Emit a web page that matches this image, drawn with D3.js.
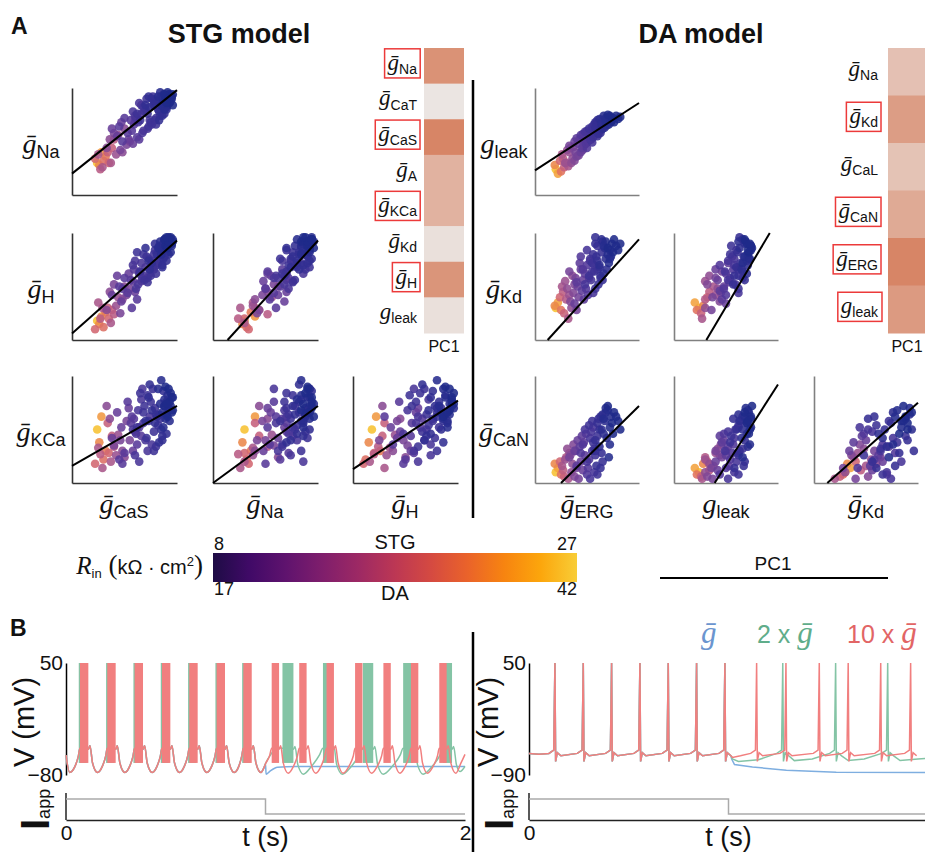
<!DOCTYPE html>
<html>
<head>
<meta charset="utf-8">
<script src="https://cdn.jsdelivr.net/npm/d3@7"></script>
<style>
  body { margin: 0; background: #fff; }
  svg { display: block; }
  text { font-family: "Liberation Sans", Arial, sans-serif; fill: #111; }
</style>
</head>
<body>
<script>
let width = 925;
let height = 852;

// ---- STG model neurons: [gCaS, gNa, gH, gKCa, Rin]  (conductances in % of axis range)
let stgVars = ["CaS", "Na", "H", "KCa"];
let stgCells = [
  [24,30,18,50,27],[28,40,22,62,25],[26,28,15,38,24],[32,36,26,30,23],[30,32,12,22,22],
  [35,30,20,28,21],[22,34,10,18,21],[38,44,28,44,20],[34,40,30,56,20],[27,24,20,27,19],
  [40,52,24,34,19],[29,26,30,14,18],[37,30,16,20,18],[25,38,35,33,18],[42,38,32,26,17],
  [44,56,40,45,17],[36,52,45,60,16],[48,40,38,30,16],[33,44,28,72,16],[50,62,50,24,16],
  [46,42,25,40,15],[52,47,42,58,15],[40,58,52,35,15],[55,50,48,40,15],[47,68,36,52,14],
  [58,48,55,30,14],[43,55,60,66,14],[60,70,45,48,14],[38,62,42,42,14],[54,52,62,70,14],
  [62,54,38,36,13],[50,72,58,28,13],[57,60,30,62,13],[64,52,64,52,13],[45,64,50,22,13],
  [66,76,55,44,13],[53,58,44,76,13],[59,66,66,60,13],[48,50,48,18,13],[56,70,56,56,13],
  [68,60,60,56,12],[70,80,68,40,12],[63,68,52,68,12],[72,62,58,30,12],[58,78,70,50,12],
  [74,70,62,62,12],[66,84,72,78,12],[61,72,48,46,12],[76,66,74,36,12],[67,58,58,88,12],
  [60,74,74,26,12],[64,86,62,20,12],[69,78,56,72,11],[73,64,76,58,11],[78,88,66,48,11],
  [65,70,64,84,11],[80,72,70,64,11],[71,90,78,42,11],[75,68,60,76,11],[82,80,72,54,11],
  [68,82,80,66,11],[77,92,68,88,11],[84,74,76,60,11],[62,76,82,52,11],[79,70,84,70,11],
  [80,66,62,34,11],[78,84,80,30,11],[72,76,54,82,11],[86,86,70,44,10],[73,92,74,80,10],
  [81,88,80,62,10],[88,76,78,72,10],[70,84,86,58,10],[85,92,84,50,10],[76,90,72,68,10],
  [90,82,82,76,10],[83,78,88,64,10],[87,94,76,86,10],[79,86,90,56,10],[92,88,80,70,10],
  [74,82,66,92,10],[86,74,68,40,10],[90,80,74,46,10],[83,70,86,38,10],[89,92,86,60,9],
  [84,96,92,74,9],[91,84,88,82,9],[86,90,84,66,9],[93,86,90,58,9],[88,80,94,78,9],
  [82,92,86,88,9],[94,92,82,72,9],[90,88,92,64,9],[85,84,80,96,9],[92,94,96,70,9],
  [95,90,88,80,9],[87,86,90,52,9],[93,94,94,76,8],[89,90,88,90,8],[96,84,92,68,8],
  [91,96,86,62,8],[94,88,96,84,8],[88,94,94,72,8],[95,92,90,66,8],[92,90,92,88,8],
  [90,86,96,74,8],[96,94,94,80,8]
];

// ---- DA model neurons: [gERG, gleak, gKd, gCaN, Rin]
let daVars = ["ERG", "leak", "Kd", "CaN"];
let daCells = [
  [20,24,30,10,42],[22,20,35,14,40],[19,28,32,18,38],[25,22,28,8,36],[24,32,40,20,34],
  [28,26,25,6,33],[27,34,45,12,32],[30,30,38,24,31],[26,38,50,16,30],[32,27,20,4,30],
  [33,40,42,28,29],[29,30,55,22,29],[35,30,30,10,28],[31,42,48,32,28],[36,34,60,18,28],
  [34,44,36,26,27],[38,32,52,6,27],[37,45,44,36,27],[40,36,28,14,26],[33,46,64,24,26],
  [39,40,58,30,26],[42,37,40,4,26],[41,48,50,40,25],[44,40,66,20,25],[38,50,34,30,25],
  [46,42,56,12,25],[43,52,72,34,24],[45,44,46,44,24],[48,50,62,26,24],[40,53,54,16,24],
  [47,46,38,38,24],[50,44,70,8,23],[44,56,78,28,23],[49,48,48,46,23],[52,54,58,22,23],
  [46,57,66,36,23],[51,50,42,14,23],[53,58,76,42,22],[48,59,52,50,22],[55,49,64,30,22],
  [50,60,84,20,22],[54,52,56,48,22],[57,58,70,10,22],[56,62,44,52,22],[53,52,74,4,22],
  [52,62,60,54,21],[56,54,80,38,21],[58,62,48,26,21],[55,64,72,58,21],[60,55,88,44,21],
  [57,66,64,32,21],[60,62,66,8,21],[61,57,52,60,20],[59,67,78,16,20],[62,60,68,50,20],
  [58,68,90,40,20],[63,66,58,62,20],[64,61,82,28,20],[60,70,74,56,20],[65,68,56,20,20],
  [63,58,60,14,20],[58,63,96,30,20],[66,70,62,46,19],[65,62,92,64,19],[62,71,70,34,19],
  [67,63,86,58,19],[68,72,76,66,19],[64,66,94,50,19],[69,65,66,42,19],[70,71,80,68,18],
  [66,74,88,60,18],[71,66,72,24,18],[72,74,84,52,18],[68,69,92,70,18],[73,68,78,62,18],
  [72,73,76,36,18],[74,70,90,56,17],[70,75,86,72,17],[75,72,82,46,17],[76,68,94,66,17],
  [78,74,88,62,17],[80,71,84,58,17],[82,73,90,50,17]
];

// panels: [x variable, y variable, row, column, fit intercept, fit slope]
let stgPanels = [
  ["CaS","Na",0,0,20,0.78],
  ["CaS","H",1,0,6,0.87],
  ["Na","H",1,1,-15,1.08],
  ["CaS","KCa",2,0,16,0.56],
  ["Na","KCa",2,1,0,0.72],
  ["H","KCa",2,2,13,0.64]
];
let daPanels = [
  ["ERG","leak",0,0,23,0.63],
  ["ERG","Kd",1,0,-13,1.07],
  ["leak","Kd",1,1,-51,1.64],
  ["ERG","CaN",2,0,-24,0.96],
  ["leak","CaN",2,1,-59,1.51],
  ["Kd","CaN",2,2,-11,0.86]
];
let stgRowNames = ["Na","H","KCa"], stgColNames = ["CaS","Na","H"];
let daRowNames = ["leak","Kd","CaN"], daColNames = ["ERG","leak","Kd"];

// PC1 loadings (colour intensity) and significant conductances
let stgGenes = ["Na","CaT","CaS","A","KCa","Kd","H","leak"];
let stgPC1 = [0.83,0.03,0.95,0.52,0.52,0.08,0.80,0.08];
let stgSig = ["Na","CaS","KCa","H"];
let daGenes = ["Na","Kd","CaL","CaN","ERG","leak"];
let daPC1 = [0.38,0.72,0.36,0.60,0.95,0.75];
let daSig = ["Kd","CaN","ERG","leak"];

// input resistance ranges on the colour bar
let stgRin = [8, 27];
let daRin = [17, 42];

// ---- panel B: STG bursting traces [t (s), V (mV)]
let stgPre = [[0,-57],[0.018,-77],[0.045,-70],[0.062,-58],[0.07,-49],[0.112,-50],[0.12,-46],[0.133,-66],
  [0.158,-77],[0.182,-70],[0.199,-58],[0.207,-49],[0.249,-50],[0.257,-46],[0.27,-66],[0.295,-77],
  [0.319,-70],[0.336,-58],[0.344,-49],[0.386,-50],[0.394,-46],[0.407,-66],[0.432,-77],[0.456,-70],
  [0.473,-58],[0.481,-49],[0.523,-50],[0.531,-46],[0.544,-66],[0.569,-77],[0.593,-70],[0.61,-58],
  [0.618,-49],[0.66,-50],[0.668,-46],[0.681,-66],[0.706,-77],[0.73,-70],[0.747,-58],[0.755,-49],
  [0.797,-50],[0.805,-46],[0.818,-66],[0.843,-77],[0.866,-70],[0.881,-58],[0.889,-49],[0.931,-50],
  [0.939,-46],[0.952,-66],[0.977,-77],[0.995,-70],[1.0,-67]];
let stgRedPost = [[1.02,-58],[1.031,-49],[1.068,-50],[1.076,-46],[1.089,-66],[1.114,-78],[1.14,-70],
  [1.16,-58],[1.169,-49],[1.206,-50],[1.214,-46],[1.227,-66],[1.252,-78],[1.278,-70],[1.297,-58],
  [1.306,-49],[1.343,-50],[1.351,-46],[1.364,-66],[1.389,-78],[1.418,-70],[1.44,-58],[1.449,-49],
  [1.486,-50],[1.494,-46],[1.507,-66],[1.532,-78],[1.56,-70],[1.582,-58],[1.591,-49],[1.628,-50],
  [1.636,-46],[1.649,-66],[1.674,-78],[1.7,-70],[1.72,-58],[1.729,-49],[1.766,-50],[1.774,-46],
  [1.787,-66],[1.812,-78],[1.84,-70],[1.862,-58],[1.871,-49],[1.908,-50],[1.916,-46],[1.929,-66],
  [1.954,-78],[1.98,-66],[2.0,-56]];
let stgGreenPost = [[1.03,-55],[1.06,-48],[1.085,-49],[1.14,-50],[1.148,-47],[1.162,-68],[1.19,-79],
  [1.23,-70],[1.27,-57],[1.288,-49],[1.335,-50],[1.343,-47],[1.357,-68],[1.385,-79],[1.43,-70],
  [1.47,-57],[1.488,-49],[1.54,-50],[1.548,-47],[1.562,-68],[1.59,-79],[1.635,-70],[1.675,-57],
  [1.69,-49],[1.74,-50],[1.748,-47],[1.762,-68],[1.79,-79],[1.835,-70],[1.875,-57],[1.89,-49],
  [1.935,-50],[1.943,-47],[1.957,-68],[1.975,-76],[2.0,-70]];
let stgBluePost = [[1.003,-79],[1.02,-76],[1.06,-71],[1.15,-70],[2.0,-70]];
let stgRedBursts = [[0.070,0.112],[0.207,0.249],[0.344,0.386],[0.481,0.523],[0.618,0.660],[0.755,0.797],
  [0.889,0.931],[1.031,1.068],[1.169,1.206],[1.306,1.343],[1.449,1.486],[1.591,1.628],[1.729,1.766],[1.871,1.908]];
let stgGreenBursts = [[0.064,0.104],[0.201,0.241],[0.338,0.378],[0.475,0.515],[0.612,0.652],[0.749,0.789],
  [0.883,0.923],[1.085,1.14],[1.288,1.335],[1.488,1.54],[1.69,1.74],[1.89,1.935]];

// ---- panel B: DA tonic spiking, spike times (s) and subthreshold points [t, V]
let daPreSpikes = [0.130,0.272,0.414,0.556,0.698,0.840,0.982];
let daRedPostSpikes = [1.141,1.288,1.455,1.600,1.763,1.913];
let daGreenPostSpikes = [1.272,1.537,1.798];
let daRedBase = [[0,-63],[0.05,-64],[1.02,-68],[1.06,-66]];
let daGreenBase = [[0,-63],[0.05,-64],[1.02,-70],[1.05,-73],[1.15,-71],[1.33,-72],[1.42,-70],
  [1.6,-72],[1.68,-70],[1.86,-72],[1.95,-70],[2.0,-69]];
let daBlueBase = [[0,-63],[0.05,-64],[1.016,-70],[1.03,-77],[1.12,-80],[1.29,-84],[1.54,-86.5],[2.0,-87]];

// applied current: [t, level]
let iappSteps = [[0,1],[1,1],[1,0],[2,0]];

let red = "#f17f7f", green = "#84c4a5", blue = "#7eaee0";

// ---------------------------------------------------------------
let svg = d3.select("body").append("svg")
  .attr("width", width)
  .attr("height", height);

let serif = '"Liberation Serif", "DejaVu Serif", serif';

// g-bar label with a sans subscript
function gLabel(parent, x, y, sub, gSize, subSize, anchor) {
  let t = parent.append("text")
    .attr("x", x).attr("y", y)
    .attr("text-anchor", anchor || "middle");
  t.append("tspan")
    .text(sub == "leak" ? "g" : "\u1E21")
    .style("font-family", serif)
    .style("font-style", "italic")
    .style("font-size", gSize + "px");
  t.append("tspan")
    .text(sub)
    .attr("dy", gSize * 0.18)
    .style("font-size", subSize + "px");
  return t;
}

// panel letters and titles
svg.append("text").attr("x", 11).attr("y", 34).text("A")
  .style("font-size", "23px").style("font-weight", "bold");
svg.append("text").attr("x", 10).attr("y", 636).text("B")
  .style("font-size", "23px").style("font-weight", "bold");
svg.append("text").attr("x", 239).attr("y", 43).attr("text-anchor", "middle").text("STG model")
  .style("font-size", "27px").style("font-weight", "bold");
svg.append("text").attr("x", 701).attr("y", 43).attr("text-anchor", "middle").text("DA model")
  .style("font-size", "27px").style("font-weight", "bold");

// separators
svg.append("line").attr("x1", 473).attr("x2", 473).attr("y1", 80).attr("y2", 518)
  .attr("stroke", "#000").attr("stroke-width", 2.5);
svg.append("line").attr("x1", 473).attr("x2", 473).attr("y1", 632).attr("y2", 852)
  .attr("stroke", "#000").attr("stroke-width", 2.5);

// scatter grids
let rowsY = [88, 233, 376];
let panelH = 107;
let dotColours = ["#1f2a8a", "#3c3197", "#6a3f9a", "#a3548e", "#d0627a", "#ee7e48", "#f7c232"];

function drawModel(cells, vars, panels, cols, panelW, rinDom, spine) {
  let colour = d3.scaleSequential(d3.interpolateRgbBasis(dotColours)).domain(rinDom);
  let sorted = cells.slice().sort((a, b) => b[4] - a[4]);
  panels.forEach(function(p) {
    let xi = vars.indexOf(p[0]);
    let yi = vars.indexOf(p[1]);
    let x0 = cols[p[3]];
    let y0 = rowsY[p[2]];
    let x = d3.scaleLinear().domain([0, 100]).range([x0, x0 + panelW]);
    let y = d3.scaleLinear().domain([0, 100]).range([y0 + panelH, y0]);
    let g = svg.append("g");
    g.append("g").attr("transform", "translate(0," + (y0 + panelH) + ")")
      .call(d3.axisBottom(x).tickValues([]).tickSizeOuter(0));
    g.append("g").attr("transform", "translate(" + x0 + ",0)")
      .call(d3.axisLeft(y).tickValues([]).tickSizeOuter(0));
    g.selectAll(".domain").attr("stroke", spine).attr("stroke-width", 1.6);
    g.append("g").selectAll("circle")
      .data(sorted)
      .enter()
      .append("circle")
      .attr("cx", d => x(d[xi]))
      .attr("cy", d => y(d[yi]))
      .attr("r", 4.3)
      .attr("fill", d => colour(d[4]))
      .attr("fill-opacity", 0.88);
    let a = p[4], b = p[5];
    let xs = Math.max(0, -a / b), xe = Math.min(100, (100 - a) / b);
    g.append("line")
      .attr("x1", x(xs)).attr("y1", y(a + b * xs))
      .attr("x2", x(xe)).attr("y2", y(a + b * xe))
      .attr("stroke", "#000").attr("stroke-width", 2);
  });
}

let stgCols = [72, 213, 353];
let daCols = [535, 674, 814];
drawModel(stgCells, stgVars, stgPanels, stgCols, 105, stgRin, "#333");
drawModel(daCells, daVars, daPanels, daCols, 104, daRin, "#808080");

stgRowNames.forEach((n, i) => gLabel(svg, 41, rowsY[i] + 65, n, 28, 18));
daRowNames.forEach((n, i) => gLabel(svg, 504, rowsY[i] + 65, n, 28, 18));
stgColNames.forEach((n, i) => gLabel(svg, stgCols[i] + 52, 513, n, 28, 18));
daColNames.forEach((n, i) => gLabel(svg, daCols[i] + 52, 513, n, 28, 18));

// PC1 heat columns
let heat = d3.scaleLinear().domain([0, 1]).range(["#ece8e6", "#d6805f"]);

function drawHeat(genes, vals, sig, x0, w, labelX) {
  let y = d3.scaleBand().domain(genes).range([48, 333]);
  svg.append("g").selectAll("rect")
    .data(genes)
    .enter()
    .append("rect")
    .attr("x", x0)
    .attr("y", d => y(d))
    .attr("width", w)
    .attr("height", y.bandwidth() + 0.5)
    .attr("fill", (d, i) => heat(vals[i]));
  genes.forEach(function(gname) {
    let t = gLabel(svg, labelX, y(gname) + y.bandwidth() / 2 + 4, gname, 23, 14, "end");
    if (sig.indexOf(gname) >= 0) {
      let bb = t.node().getBBox();
      svg.append("rect")
        .attr("x", bb.x - 3).attr("y", bb.y - 1)
        .attr("width", bb.width + 6).attr("height", bb.height + 2)
        .attr("fill", "none").attr("stroke", "#ec3a3a").attr("stroke-width", 1.5);
    }
  });
  svg.append("text").attr("x", x0 + w / 2).attr("y", 352).attr("text-anchor", "middle")
    .text("PC1").style("font-size", "16px");
}
drawHeat(stgGenes, stgPC1, stgSig, 424, 40, 417);
drawHeat(daGenes, daPC1, daSig, 888, 38, 878);

// colour bar
let defs = svg.append("defs");
let grad = defs.append("linearGradient").attr("id", "cbar");
d3.range(0, 1.0001, 0.1).forEach(function(s) {
  grad.append("stop").attr("offset", s).attr("stop-color", d3.interpolateInferno(0.12 + 0.76 * s));
});
svg.append("rect").attr("x", 213).attr("y", 553).attr("width", 364).attr("height", 29)
  .attr("fill", "url(#cbar)");
let narrow = '"Liberation Sans Narrow", "Liberation Sans", sans-serif';
[[214, 550, "start", stgRin[0]], [577, 550, "end", stgRin[1]],
 [214, 595, "start", daRin[0]], [577, 595, "end", daRin[1]]].forEach(function(d) {
  svg.append("text").attr("x", d[0]).attr("y", d[1]).attr("text-anchor", d[2]).text(d[3])
    .style("font-family", narrow).style("font-size", "18px");
});
svg.append("text").attr("x", 395).attr("y", 549).attr("text-anchor", "middle").text("STG")
  .style("font-family", narrow).style("font-size", "20px");
svg.append("text").attr("x", 395).attr("y", 600).attr("text-anchor", "middle").text("DA")
  .style("font-family", narrow).style("font-size", "20px");

let rin = svg.append("text").attr("x", 203).attr("y", 574).attr("text-anchor", "end")
  .style("font-size", "20px");
rin.append("tspan").text("R").style("font-family", serif).style("font-style", "italic").style("font-size", "25px");
rin.append("tspan").text("in").attr("dy", 4).style("font-size", "13px");
rin.append("tspan").text(" (").attr("dy", -4).style("font-family", serif).style("font-size", "27px");
rin.append("tspan").text("k\u03A9 \u00B7 cm").style("font-size", "20px");
rin.append("tspan").text("2").attr("dy", -8).style("font-size", "13px");
rin.append("tspan").text(")").attr("dy", 8).style("font-family", serif).style("font-size", "27px");

// PC1 scale line
svg.append("line").attr("x1", 660).attr("x2", 888).attr("y1", 578).attr("y2", 578)
  .attr("stroke", "#000").attr("stroke-width", 2);
svg.append("text").attr("x", 773).attr("y", 570).attr("text-anchor", "middle").text("PC1")
  .style("font-size", "19px");

// ---------------- panel B ----------------
function tracePanel(t, v, vTicks, tTicks, vLabelX) {
  let ax = svg.append("g").attr("transform", "translate(" + t.range()[0] + ",0)")
    .call(d3.axisLeft(v).tickValues(vTicks).tickSize(0).tickPadding(3).tickFormat(d3.format("d")));
  ax.select(".domain").attr("stroke", "#000").attr("stroke-width", 1.5);
  ax.selectAll("text").style("font-size", "21px").style("fill", "#111")
    .style("font-family", '"Liberation Sans", Arial, sans-serif');

  let tx = svg.append("g").attr("transform", "translate(0,820)")
    .call(d3.axisBottom(t).tickValues(tTicks).tickSize(0).tickPadding(5).tickFormat(d3.format("d")));
  tx.select(".domain").attr("stroke", "#222").attr("stroke-width", 1.5);
  tx.selectAll("text").style("font-size", "21px").style("fill", "#111")
    .style("font-family", '"Liberation Sans", Arial, sans-serif');

  svg.append("line").attr("x1", t.range()[0]).attr("x2", t.range()[0]).attr("y1", 793).attr("y2", 820)
    .attr("stroke", "#222").attr("stroke-width", 1.5);
  let iy = d3.scaleLinear().domain([0, 1]).range([814, 799]);
  svg.append("path")
    .datum(iappSteps)
    .attr("d", d3.line().x(d => t(d[0])).y(d => iy(d[1])))
    .attr("fill", "none").attr("stroke", "#aaa").attr("stroke-width", 1.5);

  svg.append("text")
    .attr("transform", "translate(" + vLabelX + ",722) rotate(-90)")
    .attr("text-anchor", "middle").text("V (mV)").style("font-size", "29px");
  let ia = svg.append("text")
    .attr("transform", "translate(" + (vLabelX + 15) + ",830) rotate(-90)");
  ia.append("tspan").text("I").style("font-size", "40px").style("font-weight", "bold");
  ia.append("tspan").text("app").attr("dy", 1).style("font-size", "18px");
  svg.append("text").attr("x", t(1)).attr("y", 846).attr("text-anchor", "middle").text("t (s)")
    .style("font-size", "27px");
}

let stgT = d3.scaleLinear().domain([0, 2]).range([66, 465]);
let stgV = d3.scaleLinear().domain([-80, 50]).range([775, 663]);
let daT = d3.scaleLinear().domain([0, 2]).range([529, 928]);
let daV = d3.scaleLinear().domain([-90, 50]).range([775, 663]);

tracePanel(stgT, stgV, [-80, 50], [0, 2], 34);
tracePanel(daT, daV, [-90, 50], [0], 498);

// STG traces: blue, green, red
let stgLine = d3.line().x(d => stgT(d[0])).y(d => stgV(d[1])).curve(d3.curveMonotoneX);
let stgTraces = [
  [blue, stgPre.concat(stgBluePost), []],
  [green, stgPre.concat(stgGreenPost), stgGreenBursts],
  [red, stgPre.concat(stgRedPost), stgRedBursts]
];
stgTraces.forEach(function(tr) {
  svg.append("path").datum(tr[1]).attr("d", stgLine)
    .attr("fill", "none").attr("stroke", tr[0]).attr("stroke-width", 1.5);
  svg.append("g").selectAll("rect")
    .data(tr[2])
    .enter()
    .append("rect")
    .attr("x", d => stgT(d[0]))
    .attr("width", d => stgT(d[1]) - stgT(d[0]))
    .attr("y", stgV(50))
    .attr("height", stgV(-66) - stgV(50))
    .attr("fill", tr[0]);
});

// DA traces: spike waveform drawn at each spike time
let spikeShape = [[-0.03,-63],[-0.006,-59],[0,50],[0.0035,-73],[0.012,-62],[0.03,-66]];
function spikeTrain(base, spikes) {
  let pts = base.slice();
  spikes.forEach(s => spikeShape.forEach(o => pts.push([s + o[0], o[1]])));
  return pts.sort((a, b) => a[0] - b[0]);
}
let daLine = d3.line().x(d => daT(d[0])).y(d => daV(d[1]));
let daTraces = [
  [blue, spikeTrain(daBlueBase, daPreSpikes)],
  [green, spikeTrain(daGreenBase, daPreSpikes.concat(daGreenPostSpikes))],
  [red, spikeTrain(daRedBase, daPreSpikes.concat(daRedPostSpikes))]
];
daTraces.forEach(function(tr) {
  svg.append("path").datum(tr[1]).attr("d", daLine)
    .attr("fill", "none").attr("stroke", tr[0]).attr("stroke-width", 1.5);
});

// legend
function legendItem(x, prefix, colour) {
  let t = svg.append("text").attr("x", x).attr("y", 643).style("fill", colour);
  if (prefix) t.append("tspan").text(prefix).style("font-size", "25px").style("fill", colour);
  t.append("tspan").text("\u1E21").style("font-family", serif).style("font-style", "italic")
    .style("font-size", "31px").style("fill", colour);
}
legendItem(701, "", "#6b95cf");
legendItem(757, "2 x ", "#5fad8a");
legendItem(847, "10 x ", "#e26565");
</script>
</body>
</html>
